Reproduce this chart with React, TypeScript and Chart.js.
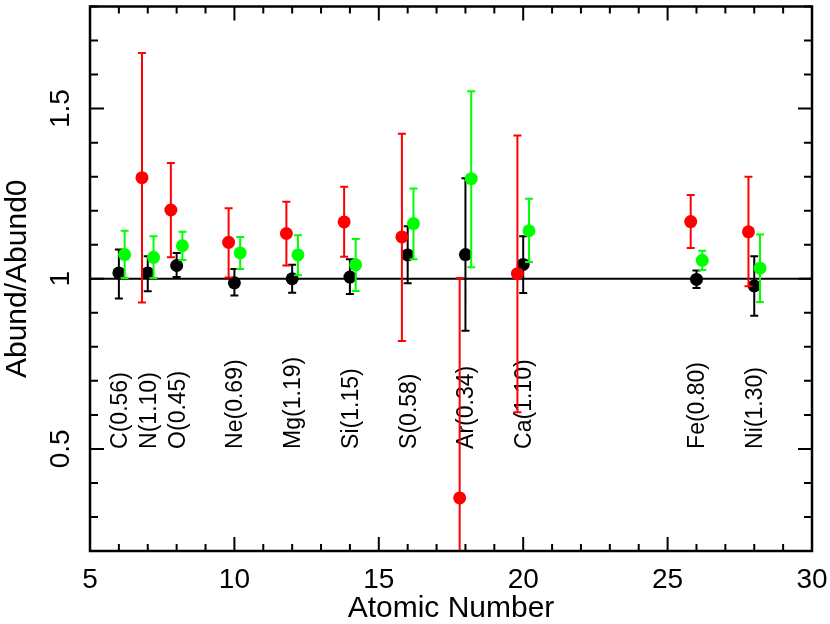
import React, { useEffect, useRef } from "react";
import { Chart, registerables } from "chart.js";

Chart.register(...registerables);

// ---------- data ----------
const atomicNumbers = [6, 7, 8, 10, 12, 14, 16, 18, 20, 26, 28];
const elementLabels = [
  "C(0.56)", "N(1.10)", "O(0.45)", "Ne(0.69)", "Mg(1.19)", "Si(1.15)",
  "S(0.58)", "Ar(0.34)", "Ca(1.10)", "Fe(0.80)", "Ni(1.30)",
];

const blackValues = [1.017, 1.017, 1.039, 0.988, 1.0, 1.005, 1.07, 1.071, 1.042, 0.998, 0.979];
const blackLow = [0.942, 0.963, 1.005, 0.951, 0.959, 0.955, 0.987, 0.847, 0.958, 0.973, 0.891];
const blackHigh = [1.086, 1.066, 1.076, 1.029, 1.041, 1.057, 1.154, 1.295, 1.125, 1.024, 1.066];

const redValues = [null, 1.297, 1.202, 1.107, 1.133, 1.167, 1.123, 0.356, 1.015, 1.168, 1.138];
const redLow = [null, 0.93, 1.063, 1.004, 1.039, 1.065, 0.817, 0.0, 0.608, 1.09, 0.978];
const redHigh = [null, 1.663, 1.34, 1.207, 1.226, 1.27, 1.426, 1.002, 1.421, 1.246, 1.3];

const greenValues = [1.071, 1.063, 1.097, 1.076, 1.07, 1.041, 1.162, 1.294, 1.141, 1.054, 1.031];
const greenLow = [1.002, 1.002, 1.055, 1.029, 1.01, 0.964, 1.057, 1.034, 1.049, 1.026, 0.932];
const greenHigh = [1.141, 1.125, 1.138, 1.123, 1.128, 1.117, 1.265, 1.551, 1.235, 1.082, 1.13];

const xTickValues = [5, 10, 15, 20, 25, 30];
const xTickLabels = ["5", "10", "15", "20", "25", "30"];
const yTickValues = [0.5, 1, 1.5];
const yTickLabels = ["0.5", "1", "1.5"];

const referenceLevel = 1;
const labelLevel = 0.5;

// ---------- styling ----------
const FONT = '"Liberation Sans", Arial, Helvetica, sans-serif';
const RED_SHIFT = -0.2;
const GREEN_SHIFT = 0.2;

type Pt = { x: number; y: number; lo: number; hi: number };

function buildPoints(values: (number | null)[], lo: (number | null)[], hi: (number | null)[], shift: number): Pt[] {
  const out: Pt[] = [];
  values.forEach((v, i) => {
    if (v === null || v === undefined) return;
    out.push({ x: atomicNumbers[i] + shift, y: v, lo: lo[i] as number, hi: hi[i] as number });
  });
  return out;
}

function labelFor(value: number, vals: number[], labels: string[]): string {
  for (let i = 0; i < vals.length; i++) {
    if (Math.abs(value - vals[i]) < 1e-6) return labels[i];
  }
  return "";
}

const errorBarPlugin = {
  id: "errorBars",
  beforeDatasetDraw(chart: any, args: any) {
    const ds: any = chart.data.datasets[args.index];
    if (!ds.errorBars) return;
    const { ctx, chartArea: a, scales } = chart;
    const xs = scales.x;
    const ys = scales.y;
    ctx.save();
    ctx.beginPath();
    ctx.rect(a.left, a.top, a.right - a.left, a.bottom - a.top);
    ctx.clip();
    ctx.strokeStyle = ds.backgroundColor;
    ctx.lineWidth = 2;
    ctx.lineCap = "butt";
    ctx.beginPath();
    (ds.data as Pt[]).forEach((p) => {
      const px = xs.getPixelForValue(p.x);
      const plo = ys.getPixelForValue(p.lo);
      const phi = ys.getPixelForValue(p.hi);
      ctx.moveTo(px, plo);
      ctx.lineTo(px, phi);
      ctx.moveTo(px - 4, plo);
      ctx.lineTo(px + 4, plo);
      ctx.moveTo(px - 4, phi);
      ctx.lineTo(px + 4, phi);
    });
    ctx.stroke();
    ctx.restore();
  },
};

const elementLabelPlugin = {
  id: "elementLabels",
  beforeDatasetsDraw(chart: any) {
    const { ctx, scales } = chart;
    const xs = scales.x;
    const ys = scales.y;
    ctx.save();
    ctx.font = `23px ${FONT}`;
    ctx.fillStyle = "#000";
    ctx.textAlign = "left";
    ctx.textBaseline = "alphabetic";
    atomicNumbers.forEach((z, i) => {
      const px = xs.getPixelForValue(z);
      const py = ys.getPixelForValue(labelLevel);
      ctx.save();
      ctx.translate(px + 8, py);
      ctx.rotate(-Math.PI / 2);
      ctx.fillText(elementLabels[i], 0, 0);
      ctx.restore();
    });
    ctx.restore();
  },
};

const framePlugin = {
  id: "frameTicks",
  afterDraw(chart: any) {
    const { ctx, chartArea: a, scales } = chart;
    const xs = scales.x;
    const ys = scales.y;
    ctx.save();
    ctx.strokeStyle = "#000";
    ctx.lineWidth = 2;
    ctx.beginPath();
    xs.ticks.forEach((t: any) => {
      const px = xs.getPixelForValue(t.value);
      const major = labelFor(t.value, xTickValues, xTickLabels) !== "";
      const len = major ? 14 : 7;
      ctx.moveTo(px, a.bottom);
      ctx.lineTo(px, a.bottom - len);
      ctx.moveTo(px, a.top);
      ctx.lineTo(px, a.top + len);
    });
    ys.ticks.forEach((t: any) => {
      const py = ys.getPixelForValue(t.value);
      const major = labelFor(t.value, yTickValues, yTickLabels) !== "";
      const len = major ? 14 : 8;
      ctx.moveTo(a.left, py);
      ctx.lineTo(a.left + len, py);
      ctx.moveTo(a.right, py);
      ctx.lineTo(a.right - len, py);
    });
    ctx.stroke();
    ctx.lineWidth = 2.5;
    ctx.strokeRect(a.left, a.top, a.right - a.left, a.bottom - a.top);
    ctx.restore();
  },
};

export default function App() {
  const canvasRef = useRef<HTMLCanvasElement | null>(null);

  useEffect(() => {
    if (!canvasRef.current) return;
    const blackPts = buildPoints(blackValues, blackLow, blackHigh, 0);
    const redPts = buildPoints(redValues, redLow, redHigh, RED_SHIFT);
    const greenPts = buildPoints(greenValues, greenLow, greenHigh, GREEN_SHIFT);

    const chart = new Chart(canvasRef.current, {
      type: "scatter",
      data: {
        datasets: [
          {
            type: "line",
            data: [
              { x: 5, y: referenceLevel },
              { x: 30, y: referenceLevel },
            ],
            showLine: true,
            borderColor: "#000",
            backgroundColor: "#000",
            borderWidth: 2,
            pointRadius: 0,
            order: 4,
          } as any,
          {
            data: blackPts,
            backgroundColor: "#000000",
            borderColor: "#000000",
            pointRadius: 6.5,
            pointHoverRadius: 6.5,
            pointBorderWidth: 0,
            errorBars: true,
            order: 3,
          } as any,
          {
            data: redPts,
            backgroundColor: "#ff0000",
            borderColor: "#ff0000",
            pointRadius: 6.5,
            pointHoverRadius: 6.5,
            pointBorderWidth: 0,
            errorBars: true,
            order: 2,
          } as any,
          {
            data: greenPts,
            backgroundColor: "#00ff00",
            borderColor: "#00ff00",
            pointRadius: 6.5,
            pointHoverRadius: 6.5,
            pointBorderWidth: 0,
            errorBars: true,
            order: 1,
          } as any,
        ],
      },
      options: {
        animation: false,
        responsive: false,
        events: [],
        layout: { padding: { top: 3, right: 18, bottom: 0, left: 0 } },
        plugins: {
          legend: { display: false },
          tooltip: { enabled: false },
        },
        scales: {
          x: {
            type: "linear",
            min: 5,
            max: 30,
            grid: { display: false, drawTicks: false },
            border: { display: false },
            ticks: {
              stepSize: 1,
              autoSkip: false,
              minRotation: 0,
              maxRotation: 0,
              padding: 12,
              color: "#000",
              font: { family: FONT, size: 28 },
              callback: (v: any) => labelFor(Number(v), xTickValues, xTickLabels),
            },
            title: {
              display: true,
              text: "Atomic Number",
              color: "#000",
              font: { family: FONT, size: 30, lineHeight: 1 },
              padding: { top: 0, bottom: 0 },
            },
            afterFit: (s: any) => {
              s.height = 73;
              s.paddingLeft = 0;
              s.paddingRight = 0;
            },
          },
          y: {
            type: "linear",
            min: 0.2,
            max: 1.8,
            grid: { display: false, drawTicks: false },
            border: { display: false },
            ticks: {
              stepSize: 0.1,
              autoSkip: false,
              minRotation: 90,
              maxRotation: 90,
              crossAlign: "center",
              padding: 9.5,
              color: "#000",
              font: { family: FONT, size: 28 },
              callback: (v: any) => labelFor(Number(v), yTickValues, yTickLabels),
            },
            title: {
              display: true,
              text: "Abund/Abund0",
              color: "#000",
              font: { family: FONT, size: 30, lineHeight: 1 },
              padding: { top: 3, bottom: 0 },
            },
            afterFit: (s: any) => {
              s.width = 90;
              s.paddingTop = 0;
              s.paddingBottom = 0;
            },
          },
        },
      } as any,
      plugins: [errorBarPlugin, elementLabelPlugin, framePlugin],
    });
    return () => chart.destroy();
  }, []);

  return (
    <div style={{ position: "absolute", left: 0, top: 0, width: 830, height: 624, background: "#fff" }}>
      <canvas ref={canvasRef} width={830} height={624} style={{ display: "block" }} />
    </div>
  );
}
